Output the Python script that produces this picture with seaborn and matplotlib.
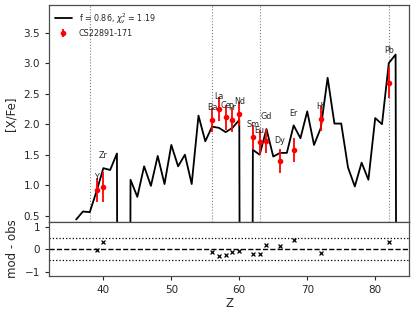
import numpy as np
import pandas as pd
import matplotlib
matplotlib.use("Agg")
import matplotlib.pyplot as plt
import seaborn as sns

sns.set_style("ticks")
plt.rcParams['font.family'] = ['DejaVu Sans']

# model abundance pattern (very low values = elements with no stable isotope)
model_z = np.arange(36, 85)
model_xfe = [0.44, 0.57, 0.56, 0.90, 1.28, 1.25, 1.52, -40.0, 1.09, 0.81,
             1.31, 0.99, 1.48, 1.02, 1.66, 1.31, 1.50, 1.02, 2.14, 1.72,
             1.96, 1.94, 1.87, 1.94, 2.07, -40.0, 1.58, 1.50, 1.92, 1.47,
             1.53, 1.53, 1.98, 1.77, 2.21, 1.66, 1.94, 2.76, 2.01, 2.01,
             1.29, 0.98, 1.37, 1.09, 2.10, 2.00, 3.00, 3.14, -40.0]

# observed star
obs_el = ["Y", "Zr", "Ba", "La", "Ce", "Pr", "Nd", "Sm", "Eu", "Gd", "Dy", "Er", "Hf", "Pb"]
obs_z = [39, 40, 56, 57, 58, 59, 60, 62, 63, 64, 66, 68, 72, 82]
obs_xfe = [0.92, 0.97, 2.07, 2.25, 2.11, 2.07, 2.17, 1.79, 1.70, 1.72, 1.40, 1.58, 2.09, 2.68]
obs_err = [0.2, 0.24, 0.2, 0.2, 0.2, 0.2, 0.2, 0.2, 0.2, 0.2, 0.2, 0.2, 0.2, 0.25]

magic_z = [38, 56, 63, 82]

model = pd.DataFrame({"Z": model_z, "xfe": model_xfe})
obs = pd.DataFrame({"el": obs_el, "Z": obs_z, "xfe": obs_xfe, "err": obs_err})
obs["mod"] = obs["Z"].map(model.set_index("Z")["xfe"])
obs["res"] = obs["mod"] - obs["xfe"]

fig = plt.figure(figsize=(4.15, 3.17), dpi=100)
ax = fig.add_axes([0.118, 0.300, 0.868, 0.684])
axr = fig.add_axes([0.118, 0.129, 0.868, 0.171], sharex=ax)

for z in magic_z:
    ax.axvline(z, color='grey', ls=':', lw=0.8, zorder=0)

sns.lineplot(data=model, x="Z", y="xfe", ax=ax, color='black', lw=1.3,
             label=r'f = 0.86, $\chi_\nu^2$ = 1.19', sort=False)
ax.errorbar(obs["Z"], obs["xfe"], yerr=obs["err"], fmt='o', color='red',
            ms=3, elinewidth=1.3, capsize=0, label='CS22891-171', zorder=3)

for _, r in obs.iterrows():
    ax.text(r["Z"], max(r["xfe"], r["mod"]) + 0.2, r["el"], ha='center',
            va='center', fontsize=5.8)

ax.set_xlim(32, 85)
ax.set_ylim(0.4, 3.95)
ax.set_yticks([0.5, 1.0, 1.5, 2.0, 2.5, 3.0, 3.5])
ax.set_ylabel('[X/Fe]', fontsize=8.5)
ax.set_xlabel('')
ax.tick_params(axis='x', bottom=False, labelbottom=False)
ax.tick_params(axis='y', labelsize=7.5, length=3)
ax.legend(loc='upper left', frameon=False, fontsize=5.8, handlelength=2.2,
          borderaxespad=0.3, labelspacing=0.4)

axr.axhline(0, color='black', ls='--', lw=1)
axr.axhline(0.5, color='black', ls=':', lw=0.9)
axr.axhline(-0.5, color='black', ls=':', lw=0.9)
sns.scatterplot(data=obs, x="Z", y="res", ax=axr, marker='x', color='black',
                s=8, linewidth=0.9, zorder=3)
axr.set_ylim(-1.2, 1.22)
axr.set_yticks([-1, 0, 1])
axr.set_xticks([40, 50, 60, 70, 80])
axr.set_xlabel('Z', fontsize=8.5, labelpad=1)
axr.set_ylabel('mod - obs', fontsize=8.5)
axr.tick_params(labelsize=7.5, length=3)

for a in (ax, axr):
    for s in a.spines.values():
        s.set_color('0.3')
        s.set_linewidth(0.9)

fig.savefig('out.png', dpi=100)
